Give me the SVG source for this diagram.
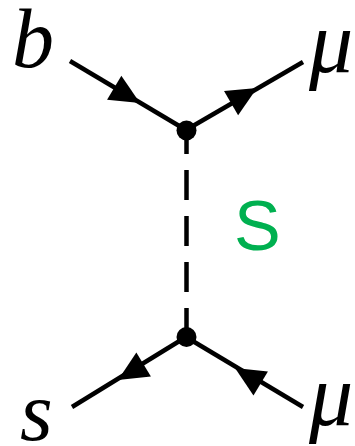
<svg xmlns="http://www.w3.org/2000/svg" width="355" height="446" viewBox="0 0 355 446">
<style>
.line{stroke:#000;stroke-width:4.5;fill:none}
.dash{stroke:#000;stroke-width:4.5;fill:none;stroke-dasharray:30 16;stroke-dashoffset:6}
.lbl{font-family:"Liberation Serif","Times New Roman",serif;font-style:italic;font-size:84px;fill:#000}
.mu{font-size:88px}
.s{font-family:"Liberation Sans",Arial,sans-serif;font-size:70px;fill:#00B050}
</style>
<defs>
<path id="arr" d="M0 0 L-30 -14 L-30 14 Z" fill="#000"/>
</defs>
<g id="connectors">
<line class="line" x1="70" y1="61" x2="186" y2="130"/>
<line class="line" x1="186" y1="130" x2="303" y2="62"/>
<line class="dash" x1="186.5" y1="130" x2="186.5" y2="337"/>
<line class="line" x1="186" y1="337" x2="72" y2="407"/>
<line class="line" x1="303" y1="407" x2="186" y2="337"/>
<use href="#arr" transform="translate(140 103) rotate(30.7)"/>
<use href="#arr" transform="translate(257 88) rotate(-30.2)"/>
<use href="#arr" transform="translate(118 380) rotate(148.7)"/>
<use href="#arr" transform="translate(235 368) rotate(-148.9)"/>
</g>
<g id="v1"><circle cx="186.5" cy="130.5" r="10" fill="#000"/></g>
<g id="v2"><circle cx="186.5" cy="337" r="10" fill="#000"/></g>
<g id="b"><text class="lbl" x="12" y="67">b</text></g>
<g id="mu1"><text class="lbl mu" x="309" y="72">μ</text></g>
<g id="s"><text class="lbl" x="20" y="440">s</text></g>
<g id="mu2"><text class="lbl mu" x="309" y="425">μ</text></g>
<g id="S"><text class="s" x="234" y="250">S</text></g>
</svg>
